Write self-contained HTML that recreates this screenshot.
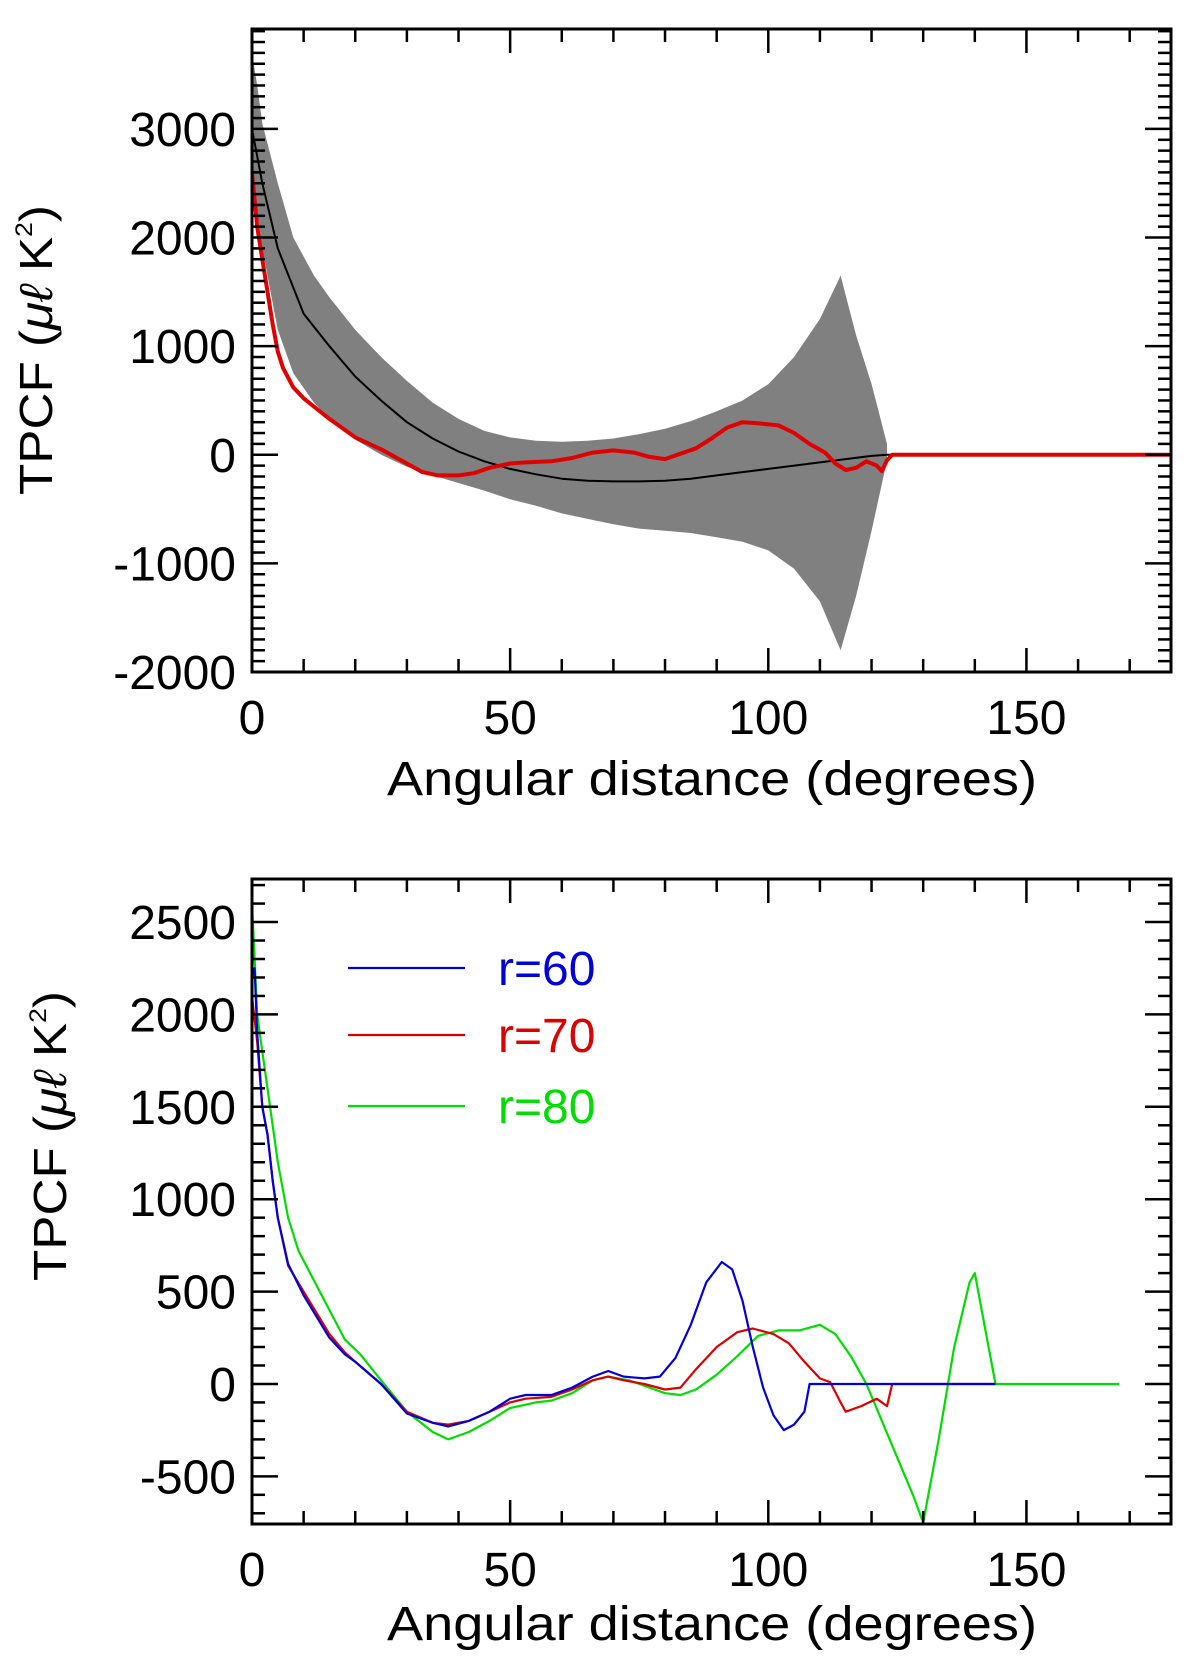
<!DOCTYPE html>
<html><head><meta charset="utf-8"><style>
html,body{margin:0;padding:0;background:#fff}
svg{display:block}
text{font-family:"Liberation Sans",sans-serif;fill:#000}
</style></head><body>
<svg id="chart" width="1200" height="1666" viewBox="0 0 1200 1666"></svg>
<script>
// ---- Top panel data ----
const topBandUpper = [[0,3700],[1,3400],[2,3050],[5,2500],[8,2000],[12,1650],[15,1450],[20,1150],[25,900],[30,680],[35,480],[40,330],[45,220],[50,160],[55,130],[60,120],[65,130],[70,150],[75,190],[80,240],[85,310],[90,400],[95,500],[100,650],[105,900],[110,1250],[114,1650],[117,1100],[120,650],[123,100]];
const topBandLower = [[0,2600],[2,1900],[5,1150],[8,750],[12,480],[15,330],[20,140],[25,0],[30,-110],[35,-190],[40,-260],[45,-330],[50,-410],[55,-470],[60,-540],[65,-590],[70,-640],[75,-680],[80,-700],[85,-720],[90,-760],[95,-800],[100,-880],[105,-1050],[110,-1350],[114,-1800],[117,-1300],[120,-700],[123,-50]];
const topMean = [[0,3000],[2,2500],[5,1900],[10,1300],[15,1000],[20,720],[25,500],[30,300],[35,150],[40,30],[45,-60],[50,-130],[55,-180],[60,-220],[65,-240],[70,-245],[75,-245],[80,-240],[85,-220],[90,-190],[95,-160],[100,-130],[105,-100],[110,-70],[115,-40],[120,-10],[123,0],[178,0]];
const topObserved = [[0,2600],[1,2100],[2,1800],[3,1500],[4,1200],[5,950],[6,800],[8,620],[10,520],[15,330],[20,160],[25,50],[30,-80],[33,-160],[36,-190],[40,-190],[43,-170],[46,-120],[50,-80],[53,-70],[58,-60],[62,-30],[66,20],[70,40],[74,20],[77,-20],[80,-40],[83,10],[86,60],[89,150],[92,250],[95,300],[98,290],[102,270],[105,200],[108,100],[111,20],[113,-80],[115,-140],[117,-120],[119,-60],[121,-100],[122,-150],[123,-50],[124,0],[178,0]];
const topYTicks = [-2000,-1000,0,1000,2000,3000];
const xTicks = [0,50,100,150];
// ---- Bottom panel data ----
const seriesR60 = [[0,2200],[0.5,2250],[1,1900],[2,1500],[3,1350],[4,1100],[5,900],[7,650],[10,480],[15,250],[18,160],[20,120],[25,0],[30,-160],[35,-210],[38,-230],[42,-200],[46,-150],[50,-80],[53,-60],[58,-60],[62,-20],[66,40],[69,70],[72,40],[76,30],[79,40],[82,140],[85,320],[88,550],[91,660],[93,620],[95,450],[97,200],[99,-20],[101,-170],[103,-250],[105,-220],[107,-150],[108,0],[144,0]];
const seriesR70 = [[0,2100],[1,1850],[2,1500],[3,1350],[4,1100],[5,900],[7,640],[10,500],[15,270],[18,170],[20,120],[25,0],[30,-150],[35,-210],[38,-220],[42,-200],[46,-150],[50,-100],[53,-80],[58,-70],[62,-30],[66,20],[69,40],[72,20],[76,0],[80,-30],[83,-20],[86,80],[90,200],[94,280],[97,300],[101,270],[104,220],[107,120],[110,30],[112,10],[114,-100],[115,-150],[118,-120],[121,-80],[123,-120],[124,0],[144,0]];
const seriesR80 = [[0,2600],[1,2000],[2,1800],[3,1600],[5,1200],[7,900],[9,720],[12,560],[15,400],[18,240],[21,160],[25,20],[30,-150],[35,-260],[38,-300],[42,-260],[46,-200],[50,-130],[55,-100],[58,-90],[62,-50],[66,20],[69,40],[73,20],[77,-20],[80,-50],[83,-60],[86,-30],[90,50],[94,150],[98,260],[102,290],[106,290],[110,320],[113,270],[116,150],[119,0],[122,-200],[125,-400],[128,-600],[130,-750],[133,-300],[136,200],[139,550],[140,600],[142,300],[144,0],[168,0]];
const botYTicks = [-500,0,500,1000,1500,2000,2500];

const NS="http://www.w3.org/2000/svg";
const svg=document.getElementById('chart');
function el(tag,attrs,parent){const e=document.createElementNS(NS,tag);for(const k in attrs)e.setAttribute(k,attrs[k]);(parent||svg).appendChild(e);return e;}

function panel(cfg){
  const L=252,R=1171,T=cfg.top,B=cfg.bottom,xmax=178;
  const sx=v=>L+(v/xmax)*(R-L);
  const sy=v=>B-(v-cfg.ymin)/(cfg.ymax-cfg.ymin)*(B-T);
  const g=el('g',{});
  
  
  const clipId=cfg.name+'-clip';
  const cp=el('clipPath',{id:clipId},g);el('rect',{x:L,y:T,width:R-L,height:B-T},cp);
  const plot=el('g',{'clip-path':'url(#'+clipId+')'},g);
  const pts=a=>a.map(p=>sx(p[0]).toFixed(1)+','+sy(p[1]).toFixed(1)).join(' ');
  if(cfg.band){
    const poly=el('polygon',{points:pts(cfg.band[0])+' '+pts(cfg.band[1].slice().reverse()),fill:'#808080'},plot);
    
    
  }
  cfg.lines.forEach(ln=>{
    const p=el('polyline',{points:pts(ln.data),fill:'none',stroke:ln.color,'stroke-width':ln.w,'stroke-linejoin':'round'},plot);
    
    
  });
  // frame
  const fr=el('rect',{x:L,y:T,width:R-L,height:B-T,fill:'none',stroke:'#000','stroke-width':3},g);
  
  
  // x ticks
  for(let v=0;v<=xmax;v+=10){
    const len=(v%50===0)?24:13;
    el('line',{x1:sx(v),x2:sx(v),y1:B,y2:B-len,stroke:'#000','stroke-width':2.5},g);
    el('line',{x1:sx(v),x2:sx(v),y1:T,y2:T+len,stroke:'#000','stroke-width':2.5},g);
  }
  xTicks.forEach(v=>{
    const t=el('text',{x:sx(v),y:B+62,'text-anchor':'middle','font-size':48},g);t.textContent=v;
    
    
  });
  // y ticks
  const start=Math.ceil(cfg.ymin/100)*100;
  for(let v=start;v<=cfg.ymax;v+=100){
    const len=(v%cfg.major===0)?26:13;
    el('line',{x1:L,x2:L+len,y1:sy(v),y2:sy(v),stroke:'#000','stroke-width':2.5},g);
    el('line',{x1:R,x2:R-len,y1:sy(v),y2:sy(v),stroke:'#000','stroke-width':2.5},g);
  }
  cfg.yticks.forEach(v=>{
    const t=el('text',{x:L-16,y:sy(v)+17,'text-anchor':'end','font-size':48},g);t.textContent=v;
    
    
  });
  const xt=el('text',{x:712,y:cfg.xtitleY,'text-anchor':'middle','font-size':48,textLength:650,lengthAdjust:'spacingAndGlyphs'},g);
  xt.textContent='Angular distance (degrees)';
  
  
  const yt=el('text',{x:0,y:0,'text-anchor':'middle','font-size':46,transform:'translate('+cfg.ytitleX+','+cfg.ytitleY+') rotate(-90)',textLength:290,lengthAdjust:'spacingAndGlyphs'},g);
  yt.innerHTML='TPCF (<tspan font-style="italic">μℓ</tspan> K<tspan font-size="24" dy="-20">2</tspan><tspan dy="20">)</tspan>';
  
  
  return {sx,sy,g};
}

panel({name:'top-panel',top:29,bottom:672,ymin:-2000,ymax:3920,major:1000,yticks:topYTicks,
  band:[topBandUpper,topBandLower],xtitleY:795,ytitleX:52,ytitleY:350,
  lines:[{name:'mean-line',data:topMean,color:'#000',w:2},{name:'observed-line',data:topObserved,color:'#e00000',w:4}]});

const bp=panel({name:'bottom-panel',top:879,bottom:1524,ymin:-758,ymax:2733,major:500,yticks:botYTicks,
  xtitleY:1640,ytitleX:66,ytitleY:1136,
  lines:[{name:'r80-line',data:seriesR80,color:'#00dd00',w:2.2},{name:'r70-line',data:seriesR70,color:'#dd0000',w:2.2},{name:'r60-line',data:seriesR60,color:'#0000dd',w:2.2}]});

// legend
const legend=[['r=60','#0000dd',968],['r=70','#dd0000',1035],['r=80','#00dd00',1106]];
legend.forEach(([lab,c,y])=>{
  const g=el('g',{},bp.g);
  
  
  el('line',{x1:348,x2:465,y1:y,y2:y,stroke:c,'stroke-width':2.2},g);
  const t=el('text',{x:498,y:y+17,'font-size':48},g);t.style.fill=c;t.textContent=lab;
});
</script>
</body></html>
